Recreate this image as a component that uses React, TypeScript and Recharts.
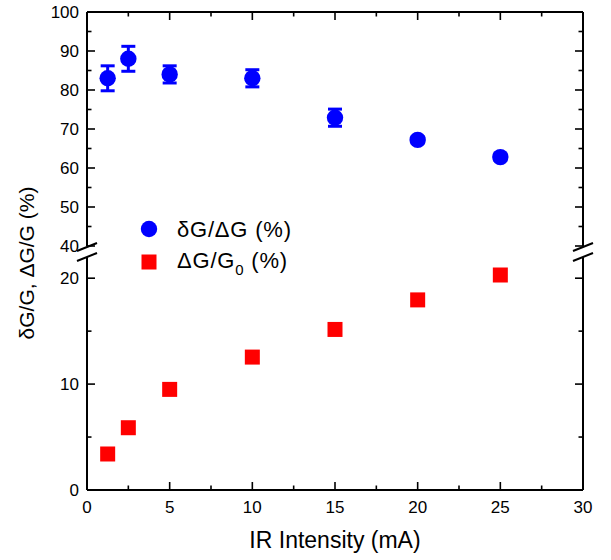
import React from 'react';
import { ScatterChart, Scatter, XAxis, YAxis, ErrorBar, Legend } from 'recharts';

const intensities = [1.25, 2.5, 5, 10, 15, 20, 25];
const ratioValues = [83, 88, 84, 83, 72.9, 67.2, 62.8];
const ratioErrors = [3.2, 3.2, 2.2, 2.2, 2.2, 0.8, 0.8];
const changeValues = [3.4, 5.88, 9.5, 12.55, 15.16, 17.95, 20.3];

const xTicks = [0, 2.5, 5, 7.5, 10, 12.5, 15, 17.5, 20, 22.5, 25, 27.5, 30];
const upperTicks = [40, 45, 50, 55, 60, 65, 70, 75, 80, 85, 90, 95, 100];
const lowerTicks = [0, 5, 10, 15, 20];

const legendLabels = ['δG/ΔG (%)', 'ΔG/G'];

const ratioData = intensities.map((x, i) => ({ x, y: ratioValues[i], err: ratioErrors[i] }));
const changeData = intensities.map((x, i) => ({ x, y: changeValues[i] }));

const FONT = '"Liberation Sans", Arial, Helvetica, sans-serif';
const BLUE = '#0000FF';
const RED = '#FF0000';
const W = 611;
const LEFT = 87;
const RIGHT = 28;
const TOP = 12;
const UPPER_BOTTOM = 246;
const LOWER_TOP = 257;
const BOTTOM = 490;

const LeftTick = (props: any) => {
  const { x, y, payload } = props;
  const major = payload.value % 10 === 0;
  return (
    <g>
      <line x1={x} y1={y} x2={x + (major ? 8 : 4.5)} y2={y} stroke="#000" strokeWidth={1.6} />
      {major && (
        <text x={x - 8} y={y} dy="0.36em" textAnchor="end" fontSize={17} fontFamily={FONT} fill="#000">
          {payload.value}
        </text>
      )}
    </g>
  );
};

const RightTick = (props: any) => {
  const { x, y, payload } = props;
  const major = payload.value % 10 === 0;
  return <line x1={x} y1={y} x2={x - (major ? 8 : 4.5)} y2={y} stroke="#000" strokeWidth={1.6} />;
};

const TopTick = (props: any) => {
  const { x, y, payload } = props;
  const major = payload.value % 5 === 0;
  return <line x1={x} y1={y} x2={x} y2={y + (major ? 8 : 4.5)} stroke="#000" strokeWidth={1.6} />;
};

const BottomTick = (props: any) => {
  const { x, y, payload } = props;
  const major = payload.value % 5 === 0;
  return (
    <g>
      <line x1={x} y1={y} x2={x} y2={y - (major ? 8 : 4.5)} stroke="#000" strokeWidth={1.6} />
      {major && (
        <text x={x} y={y + 23} textAnchor="middle" fontSize={17} fontFamily={FONT} fill="#000">
          {payload.value}
        </text>
      )}
    </g>
  );
};

const Circle = (props: any) => <circle cx={props.cx} cy={props.cy} r={8.2} fill={BLUE} />;
const Square = (props: any) => (
  <rect x={props.cx - 7.5} y={props.cy - 7.5} width={15} height={15} fill={RED} />
);
const Nothing = () => <g />;

const LegendContent = () => (
  <svg width={200} height={64} style={{ display: 'block', overflow: 'visible' }}>
    <circle cx={9} cy={14} r={8.2} fill={BLUE} />
    <text x={37} y={22} fontSize={22} letterSpacing={0.8} fontFamily={FONT} fill="#000">{legendLabels[0]}</text>
    <rect x={1.5} y={39.5} width={15} height={15} fill={RED} />
    <text x={37} y={53} fontSize={22} letterSpacing={0.8} fontFamily={FONT} fill="#000">
      {legendLabels[1]}
      <tspan dy={7} fontSize={15}>0</tspan>
      <tspan dy={-7}> (%)</tspan>
    </text>
  </svg>
);

const axisLine = { stroke: '#000', strokeWidth: 2 };

export default function App() {
  return (
    <div style={{ position: 'absolute', left: 0, top: 0, width: W, height: 560, background: '#fff' }}>
      <div style={{ position: 'absolute', left: 0, top: 0 }}>
        <ScatterChart width={W} height={UPPER_BOTTOM + 14} margin={{ top: TOP - 1, right: RIGHT - 1, bottom: 14, left: LEFT - 1 }}>
          <XAxis
            dataKey="x"
            type="number"
            orientation="top"
            domain={[0, 30]}
            ticks={xTicks}
            interval={0}
            height={1}
            tickSize={0}
            tickMargin={0}
            axisLine={axisLine}
            tickLine={false}
            tick={<TopTick />}
          />
          <YAxis
            dataKey="y"
            type="number"
            domain={[40, 100]}
            ticks={upperTicks}
            interval={0}
            width={1}
            tickSize={0}
            tickMargin={0}
            axisLine={axisLine}
            tickLine={false}
            tick={<LeftTick />}
          />
          <YAxis
            yAxisId="r"
            dataKey="y"
            type="number"
            orientation="right"
            domain={[40, 100]}
            ticks={upperTicks}
            interval={0}
            width={1}
            tickSize={0}
            tickMargin={0}
            axisLine={axisLine}
            tickLine={false}
            tick={<RightTick />}
          />
          <Scatter data={ratioData} yAxisId="r" shape={<Nothing />} isAnimationActive={false} legendType="none" />
          <Scatter data={ratioData} fill={BLUE} shape={<Circle />} isAnimationActive={false}>
            <ErrorBar dataKey="err" direction="y" width={7} stroke={BLUE} strokeWidth={3} isAnimationActive={false} />
          </Scatter>
          <Legend
            layout="vertical"
            align="center"
            verticalAlign="middle"
            content={<LegendContent />}
            wrapperStyle={{ left: 140, top: 215, width: 200, height: 64 }}
          />
        </ScatterChart>
      </div>
      <div style={{ position: 'absolute', left: 0, top: 0 }}>
        <ScatterChart width={W} height={560} margin={{ top: LOWER_TOP, right: RIGHT - 1, bottom: 560 - BOTTOM - 1, left: LEFT - 1 }}>
          <XAxis
            dataKey="x"
            type="number"
            orientation="bottom"
            domain={[0, 30]}
            ticks={xTicks}
            interval={0}
            height={1}
            tickSize={0}
            tickMargin={0}
            axisLine={axisLine}
            tickLine={false}
            tick={<BottomTick />}
            label={{ value: 'IR Intensity (mA)', position: 'bottom', offset: 41, fontSize: 23, fontFamily: FONT, fill: '#000' }}
          />
          <YAxis
            dataKey="y"
            type="number"
            domain={[0, 22]}
            ticks={lowerTicks}
            interval={0}
            width={1}
            tickSize={0}
            tickMargin={0}
            axisLine={axisLine}
            tickLine={false}
            tick={<LeftTick />}
          />
          <YAxis
            yAxisId="r"
            dataKey="y"
            type="number"
            orientation="right"
            domain={[0, 22]}
            ticks={lowerTicks}
            interval={0}
            width={1}
            tickSize={0}
            tickMargin={0}
            axisLine={axisLine}
            tickLine={false}
            tick={<RightTick />}
          />
          <Scatter data={changeData} yAxisId="r" shape={<Nothing />} isAnimationActive={false} />
          <Scatter data={changeData} fill={RED} shape={<Square />} isAnimationActive={false} />
        </ScatterChart>
      </div>
      <svg width={W} height={560} style={{ position: 'absolute', left: 0, top: 0, pointerEvents: 'none' }}>
        <text
          transform="translate(34, 263) rotate(-90)"
          textAnchor="middle"
          fontSize={21}
          fontFamily={FONT}
          fill="#000"
        >
          δG/G, ΔG/G (%)
        </text>
        {[LEFT, W - RIGHT].map((ax) => (
          <g key={ax} stroke="#000" strokeWidth={2}>
            <line x1={ax - 10} y1={UPPER_BOTTOM + 5} x2={ax + 10} y2={UPPER_BOTTOM - 3} />
            <line x1={ax - 10} y1={LOWER_TOP + 4} x2={ax + 10} y2={LOWER_TOP - 4} />
          </g>
        ))}
      </svg>
    </div>
  );
}
